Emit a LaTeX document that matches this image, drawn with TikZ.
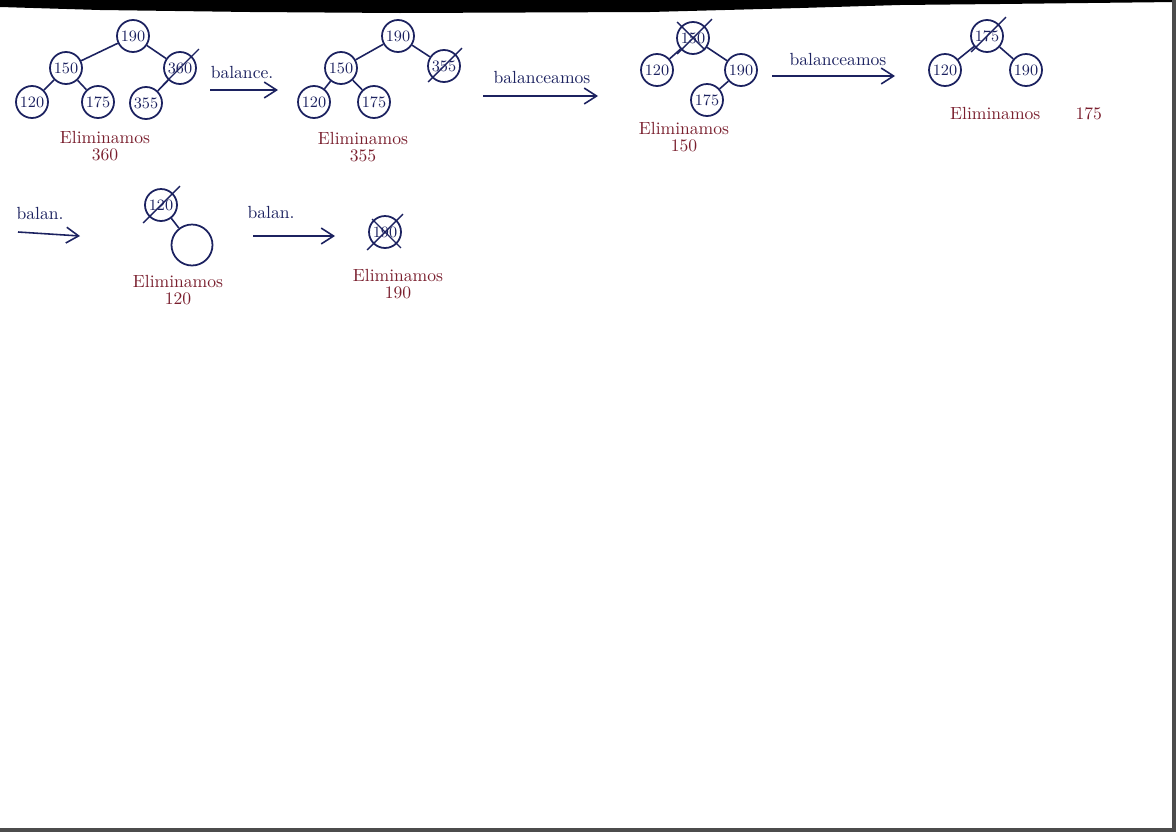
\documentclass[tikz,border=0pt]{standalone}
\usetikzlibrary{arrows.meta,calc}
\definecolor{inkblue}{HTML}{1C2260}
\definecolor{inkred}{HTML}{7A1F2E}
\begin{document}
\begin{tikzpicture}[x=0.02cm,y=-0.02cm,
  edge/.style={draw=inkblue, line width=0.9pt},
  nd/.style={circle, draw=inkblue, line width=1pt, minimum size=0.64cm, inner sep=0pt, text=inkblue, font=\small},
  bignd/.style={nd, minimum size=0.82cm},
  lbl/.style={text=inkred, font=\normalsize, align=center},
  arrlbl/.style={text=inkblue, font=\normalsize},
  arr/.style={draw=inkblue, line width=0.9pt, -{Straight Barb[length=7pt,width=9pt]}},
  cross/.style={draw=inkblue, line width=0.8pt}]
\useasboundingbox (0,0) rectangle (1176,832);
\fill[white] (0,0) rectangle (1176,832);
% photo edge
\fill[black] (0,0) -- (1176,0) -- (1176,2) -- (1000,4) -- (900,5) -- (800,8) -- (650,12) -- (400,13) -- (250,12) -- (100,10) -- (0,7) -- cycle;
\fill[black!70] (1172,0) rectangle (1176,832);
\fill[black!70] (0,828) rectangle (1176,832);

% ---- Tree 1 ----
\node[nd] (a190) at (133,36) {190};
\node[nd] (a150) at (66,68) {150};
\node[nd] (a360) at (180,68) {360};
\node[nd] (a120) at (32,102) {120};
\node[nd] (a175) at (98,102) {175};
\node[nd] (a355) at (146,103) {355};
\draw[edge] (a190) -- (a150);
\draw[edge] (a190) -- (a360);
\draw[edge] (a150) -- (a120);
\draw[edge] (a150) -- (a175);
\draw[edge] (a360) -- (a355);
\draw[cross] ([shift={(-5,5)}]a360.south west) -- ([shift={(7,-7)}]a360.north east);
\node[lbl] (l1) at (105,146) {Eliminamos\\[-2pt]360};
\coordinate (p1s) at (210,90);
\coordinate (p1e) at (278,90);
\draw[arr] (p1s) -- (p1e);
\node[arrlbl] (t1) at (242,72) {balance.};

% ---- Tree 2 ----
\node[nd] (b190) at (398,36) {190};
\node[nd] (b150) at (341,68) {150};
\node[nd] (b355) at (444,66) {355};
\node[nd] (b120) at (314,102) {120};
\node[nd] (b175) at (374,102) {175};
\draw[edge] (b190) -- (b150);
\draw[edge] (b190) -- (b355);
\draw[edge] (b150) -- (b120);
\draw[edge] (b150) -- (b175);
\draw[cross] ([shift={(-4,4)}]b355.south west) -- ([shift={(6,-6)}]b355.north east);
\node[lbl] (l2) at (363,147) {Eliminamos\\[-2pt]355};
\coordinate (p2s) at (483,96);
\coordinate (p2e) at (598,96);
\draw[arr] (p2s) -- (p2e);
\node[arrlbl] (t2) at (542,77) {balanceamos};

% ---- Tree 3 ----
\node[nd] (c150) at (693,38) {150};
\node[nd] (c120) at (657,70) {120};
\node[nd] (c190) at (741,70) {190};
\node[nd] (c175) at (707,100) {175};
\draw[edge] (c150) -- (c120);
\draw[edge] (c150) -- (c190);
\draw[edge] (c190) -- (c175);
\draw[cross] ([shift={(-4,4)}]c150.south west) -- ([shift={(7,-7)}]c150.north east);
\draw[cross] ([shift={(-4,-4)}]c150.north west) -- (c150.south east);
\node[lbl] (l3) at (684,137) {Eliminamos\\[-2pt]150};
\coordinate (p3s) at (772,76);
\coordinate (p3e) at (895,76);
\draw[arr] (p3s) -- (p3e);
\node[arrlbl] (t3) at (838,59) {balanceamos};

% ---- Tree 4 ----
\node[nd] (d175) at (987,36) {175};
\node[nd] (d120) at (945,70) {120};
\node[nd] (d190) at (1026,70) {190};
\draw[edge] (d175) -- (d120);
\draw[edge] (d175) -- (d190);
\draw[cross] ([shift={(-4,4)}]d175.south west) -- ([shift={(7,-7)}]d175.north east);
\node[lbl, anchor=west] (l4) at (944,114) {Eliminamos\hspace{2em}175};

% ---- Row 2 ----
\coordinate (p4s) at (18,232);
\coordinate (p4e) at (80,236);
\draw[arr] (p4s) -- (p4e);
\node[arrlbl] (t4) at (40,213) {balan.};

\node[nd] (e120) at (161,205) {120};
\node[bignd] (eempty) at (192,245) {};
\draw[edge] (e120) -- (eempty);
\draw[cross] ([shift={(-6,6)}]e120.south west) -- ([shift={(7,-7)}]e120.north east);
\node[lbl] (l5) at (178,290) {Eliminamos\\[-2pt]120};

\coordinate (p5s) at (253,236);
\coordinate (p5e) at (335,236);
\draw[arr] (p5s) -- (p5e);
\node[arrlbl] (t5) at (271,212) {balan.};

\node[nd] (f190) at (385,232) {190};
\draw[cross] ([shift={(-6,6)}]f190.south west) -- ([shift={(6,-6)}]f190.north east);
\draw[cross] ([shift={(-1,-1)}]f190.north west) -- ([shift={(4,4)}]f190.south east);
\node[lbl] (l6) at (398,284) {Eliminamos\\[-2pt]190};
\end{tikzpicture}
\end{document}
